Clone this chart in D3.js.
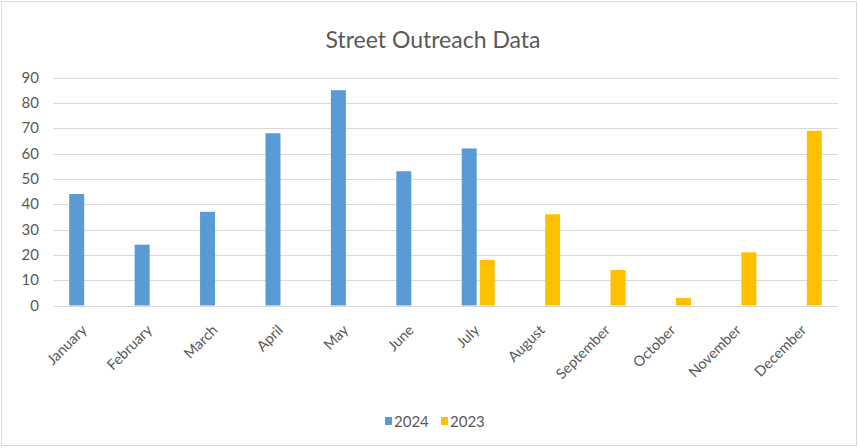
<!DOCTYPE html>
<html><head><meta charset="utf-8">
<script src="https://cdn.jsdelivr.net/npm/d3@7"></script>
<style>body{margin:0;background:#fff}svg{display:block}text{font-family:Lato,"Open Sans",sans-serif}</style>
</head><body><div id="c"></div>
<script>
const months = ["January","February","March","April","May","June","July","August","September","October","November","December"];
const seriesNames = ["2024","2023"];
const values2024 = [44,24,37,68,85,53,62,null,null,null,null,null];
const values2023 = [null,null,null,null,null,null,18,36,14,3,21,69];
const yTicks = [0,10,20,30,40,50,60,70,80,90];
const colors = ["#5B9BD5","#FFC000"];
const title = "Street Outreach Data";

const W = 859, H = 448;
const svg = d3.select("#c").append("svg").attr("width",W).attr("height",H);
svg.append("rect").attr("x",1.5).attr("y",1.5).attr("width",W-4).attr("height",H-4)
  .attr("fill","#fff").attr("stroke","#D9D9D9").attr("stroke-width",1);

const x = d3.scaleBand().domain(months).range([53,838]).paddingInner(0).paddingOuter(0);
const x1 = d3.scaleBand().domain(seriesNames).range([-16.5,16.5]).paddingInner(1/6).paddingOuter(0);
const y = d3.scaleLinear().domain([0,90]).range([305.5,77.5]);

// gridlines
svg.append("g").selectAll("line").data(yTicks).join("line")
  .attr("x1",53).attr("x2",838).attr("y1",d=>Math.round(y(d))+0.5).attr("y2",d=>Math.round(y(d))+0.5)
  .attr("stroke","#D9D9D9").attr("stroke-width",1);

// y axis labels
const yAxis = d3.axisLeft(y).tickValues(yTicks).tickSize(0).tickPadding(0);
const gy = svg.append("g").attr("transform","translate(39,0)").call(yAxis);
gy.select(".domain").remove();
gy.selectAll("text").attr("fill","#595959").style("font-size","15px").style("font-family","Lato,sans-serif");

// bars
const data = [values2024, values2023];
data.forEach((vals,si)=>{
  svg.append("g").selectAll("rect").data(months.map((m,i)=>({m,v:vals[i]})).filter(d=>d.v!=null)).join("rect")
    .attr("x",d=>x(d.m)+x.bandwidth()/2+x1(seriesNames[si]))
    .attr("width",x1.bandwidth())
    .attr("y",d=>y(d.v)).attr("height",d=>y(0)-y(d.v))
    .attr("fill",colors[si]);
});

// x axis labels
const xAxis = d3.axisBottom(x).tickSize(0).tickPadding(0);
const gx = svg.append("g").attr("transform","translate(0,305)").call(xAxis);
gx.select(".domain").remove();
gx.selectAll("text").attr("fill","#595959").style("font-size","14.5px").style("font-family","Lato,sans-serif")
  .attr("text-anchor","end").attr("dy",null).attr("y",null)
  .attr("transform","translate(2,26) rotate(-45)");

// title
svg.append("text").attr("x",433).attr("y",48).attr("text-anchor","middle")
  .attr("fill","#595959").style("font-size","23px").text(title);

// legend
const leg = svg.append("g");
const legX = [385,441];
seriesNames.forEach((s,i)=>{
  leg.append("rect").attr("x",legX[i]).attr("y",417).attr("width",7).attr("height",8).attr("fill",colors[i]);
  leg.append("text").attr("x",legX[i]+9).attr("y",427).attr("fill","#595959").style("font-size","15px").text(s);
});
</script></body></html>
